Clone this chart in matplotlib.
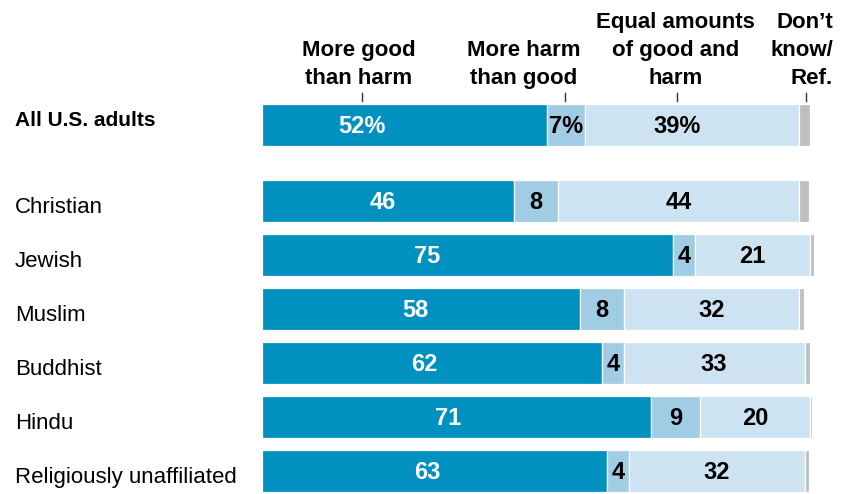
import matplotlib
matplotlib.use("Agg")
import matplotlib.pyplot as plt

plt.rcParams['font.family'] = ['Liberation Sans', 'DejaVu Sans']

# ---- data ----
categories = ["All U.S. adults", "Christian", "Jewish", "Muslim", "Buddhist", "Hindu",
              "Religiously unaffiliated"]
more_good = [52, 46, 75, 58, 62, 71, 63]
more_harm = [7, 8, 4, 8, 4, 9, 4]
equal_amounts = [39, 44, 21, 32, 33, 20, 32]
dont_know = [2, 1.8, 0.7, 0.9, 1.0, 0.4, 0.9]
header_labels = ["More good\nthan harm", "More harm\nthan good",
                 "Equal amounts\nof good and\nharm", "Don\u2019t\nknow/\nRef."]

# ---- style / layout ----
colors = ["#0091c0", "#a0cce4", "#cee3f1", "#bebebe"]
PX_PER_UNIT = 5.48
X0_PX = 262
ROW_PITCH = 54.0
Y0_PX = 201
W, H = 843, 494

fig = plt.figure(figsize=(W / 100, H / 100), dpi=100)
ax = fig.add_axes([0, 0, 1, 1])
ax.set_xlim(-X0_PX / PX_PER_UNIT, (W - X0_PX) / PX_PER_UNIT)
ax.set_ylim((H - Y0_PX) / ROW_PITCH, -Y0_PX / ROW_PITCH)
ax.axis("off")

def py(p):
    return (p - Y0_PX) / ROW_PITCH

def px(p):
    return (p - X0_PX) / PX_PER_UNIT

ypos = [py(125)] + [i for i in range(len(categories) - 1)]
bar_h = 42 / ROW_PITCH

series = [more_good, more_harm, equal_amounts, dont_know]
for r, y in enumerate(ypos):
    left = 0
    for s, vals in enumerate(series):
        v = vals[r]
        ax.barh(y, v, left=left, height=bar_h, color=colors[s],
                edgecolor="white", linewidth=0.9)
        left += v

# value label positions (x in data units)
blue_lbl_x = [18.2, 22.1, 30.1, 27.9, 29.7, 33.9, 30.1]
VAL_SIZE = 17
for r, y in enumerate(ypos):
    suffix = "%" if r == 0 else ""
    yb = y + 7.5 / ROW_PITCH
    ax.text(blue_lbl_x[r], yb, f"{more_good[r]}{suffix}", color="white",
            fontsize=VAL_SIZE, fontweight="bold", ha="center", va="baseline")
    mid_x = more_good[r] + more_harm[r] / 2
    ax.text(mid_x, yb, f"{more_harm[r]}{suffix}", color="black",
            fontsize=VAL_SIZE, fontweight="bold", ha="center", va="baseline")
    eq_x = more_good[r] + more_harm[r] + equal_amounts[r] / 2
    if r == 0:
        eq_x = 75.7
    ax.text(eq_x, yb, f"{equal_amounts[r]}{suffix}", color="black",
            fontsize=VAL_SIZE, fontweight="bold", ha="center", va="baseline")

# row labels
for r, y in enumerate(ypos):
    if r == 0:
        ax.text(px(15), py(126), categories[r], fontsize=15, fontweight="bold",
                ha="left", va="baseline", color="black")
    else:
        ax.text(px(15), y + 11.7 / ROW_PITCH, categories[r], fontsize=16,
                ha="left", va="baseline", color="black")

# header labels & ticks
tick_x = [18.2, 55.3, 75.7, 99.3]
head_x = [17.7, 47.8, 75.4, 104.2]
head_ha = ["center", "center", "center", "right"]
for i, lab in enumerate(header_labels):
    ax.plot([tick_x[i], tick_x[i]], [py(93), py(101)], color="#333333", lw=1)
    ax.text(head_x[i], py(88.5), lab, fontsize=16, fontweight="bold",
            ha=head_ha[i], va="bottom", multialignment=head_ha[i],
            linespacing=1.42, color="black")

fig.savefig("out.png", dpi=100)
